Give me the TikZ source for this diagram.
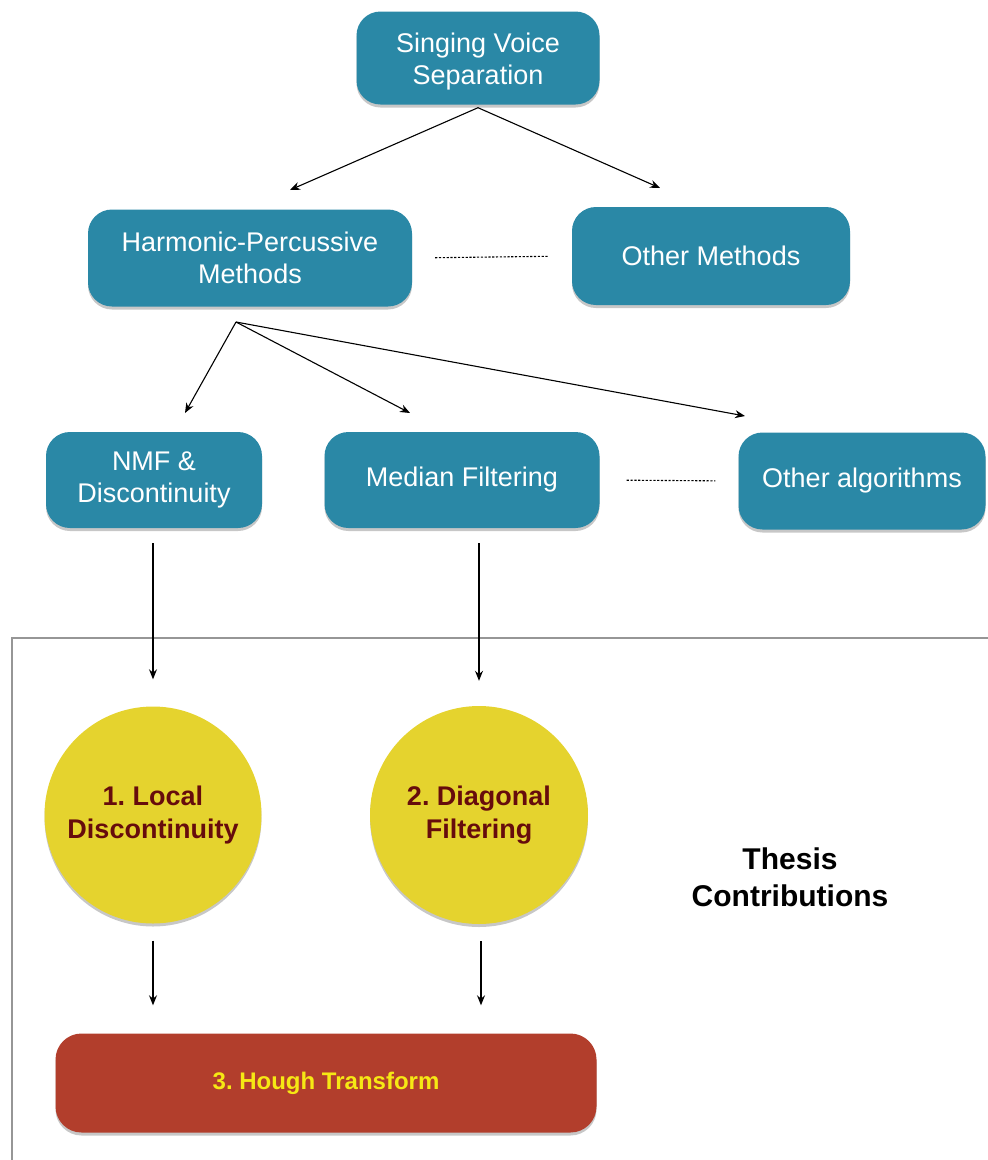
\documentclass[tikz,border=0pt]{standalone}
\usepackage{fontspec}
\setmainfont{Liberation Sans}
\usetikzlibrary{arrows.meta,shadows}
\definecolor{methodblue}{RGB}{42,136,166}
\definecolor{contribyellow}{RGB}{229,211,46}
\definecolor{contribtext}{RGB}{102,12,12}
\definecolor{houghred}{RGB}{178,62,44}
\definecolor{houghtext}{RGB}{246,232,20}
\definecolor{framegray}{RGB}{150,150,150}
\frenchspacing
\begin{document}
\begin{tikzpicture}[x=1pt,y=-1pt,
  softshadow/.style={drop shadow={shadow xshift=0pt,shadow yshift=-3pt,opacity=0.22,fill=black}},
  method/.style={fill=methodblue, rounded corners=24pt, inner sep=0pt, text=white,
    align=center, font=\fontsize{27}{32}\selectfont, softshadow},
  contrib/.style={circle, fill=contribyellow, inner sep=0pt, text=contribtext,
    align=center, font=\fontsize{27}{33}\selectfont\bfseries, softshadow},
  final/.style={fill=houghred, rounded corners=26pt, inner sep=0pt, text=houghtext,
    align=center, font=\fontsize{24}{30}\selectfont\bfseries, softshadow},
  arr/.style={draw=black, line width=1.1pt, -{Stealth[length=10pt,width=8pt]}},
  dots/.style={draw=black, line width=1.1pt, dash pattern=on 2.2pt off 1.6pt},
]
\useasboundingbox (0,0) rectangle (988,1160);

% frame around the contributions
\draw[framegray, line width=1.3pt] (988,638) -- (12,638) -- (12,1160);

% existing methods (the top label sits a little below the box centre)
\node[method, minimum width=243pt, minimum height=93pt] (svs) at (478,58)
  {\raisebox{-4pt}[\height][\depth]{\begin{tabular}{@{}c@{}}Singing Voice\\Separation\end{tabular}}};
\node[method, minimum width=324pt, minimum height=97pt] (hp) at (250,258) {Harmonic-Percussive\\Methods};
\node[method, minimum width=278pt, minimum height=98pt] (om) at (711,256) {Other Methods};
\node[method, minimum width=216pt, minimum height=96pt] (nmf) at (154,480) {NMF \&\\Discontinuity};
\node[method, minimum width=275pt, minimum height=96pt] (mf) at (462,480) {Median Filtering};
\node[method, minimum width=247pt, minimum height=97pt] (oa) at (862,481) {Other algorithms};

% contributions
\node[contrib, minimum size=217pt] (c1) at (153,815) {1. Local\\Discontinuity};
\node[contrib, minimum size=218pt] (c2) at (479,815) {2. Diagonal\\Filtering};
\node[final, minimum width=541pt, minimum height=99pt] (ht) at (326,1083) {3. Hough Transform};
\node[align=center, font=\fontsize{30}{37}\selectfont\bfseries] (thesis) at (790,877) {Thesis\\Contributions};

% branching arrows
\coordinate (svsL) at (290,190);
\coordinate (svsR) at (660,188);
\draw[arr] ([yshift=-3pt]svs.south) -- (svsL);
\draw[arr] ([yshift=-3pt]svs.south) -- (svsR);

\coordinate (fork) at (236,322);
\coordinate (nmfT) at (185,413);
\coordinate (mfT) at (410,413);
\coordinate (oaT) at (745,416);
\draw[arr] (fork) -- (nmfT);
\draw[arr] (fork) -- (mfT);
\draw[arr] (fork) -- (oaT);

% dotted links to other approaches
\draw[dots, shorten <=23pt, shorten >=24pt] (hp.east) -- (om.west);
\draw[dots, shorten <=27pt, shorten >=23pt] (mf.east) -- (oa.west);

% vertical arrows into the contributions
\draw[arr] ([xshift=-1pt,yshift=-15pt]nmf.south) -- ([yshift=27pt]c1.north);
\draw[arr] ([xshift=17pt,yshift=-15pt]mf.south) -- ([yshift=25pt]c2.north);
\draw[arr] ([yshift=-17pt]c1.south) -- ([yshift=28pt]c1.south |- ht.north);
\draw[arr] ([xshift=2pt,yshift=-17pt]c2.south) -- ([xshift=2pt,yshift=28pt]c2.south |- ht.north);
\end{tikzpicture}
\end{document}
